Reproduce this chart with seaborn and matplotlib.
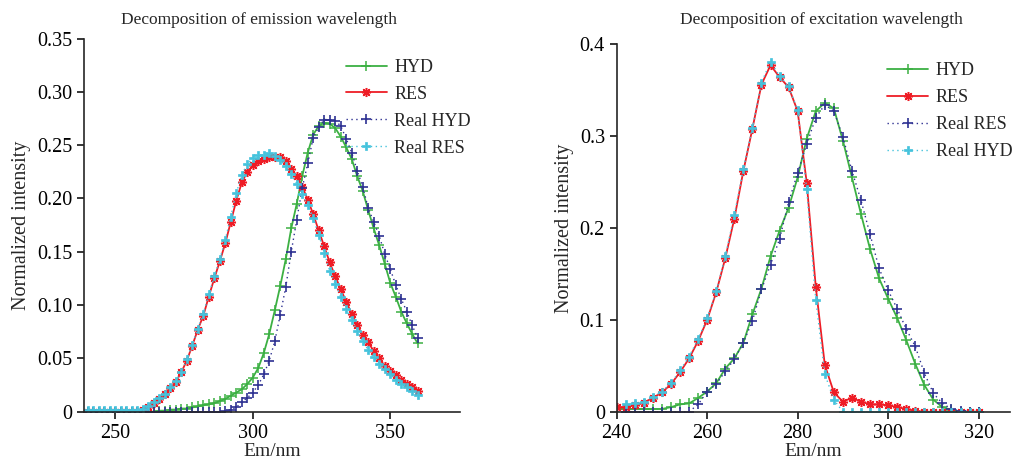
import numpy as np
import matplotlib
matplotlib.use("Agg")
import matplotlib.pyplot as plt
import seaborn as sns

# emission (left panel), 2 nm steps 240..360
em_nm = list(range(240, 362, 2))
em_hyd = [0, 0, 0, 0, 0, 0, 0, 0, 0, 0, 0, 0, 0, 0.001, 0.001, 0.002, 0.002, 0.003, 0.003, 0.004,
          0.005, 0.006, 0.007, 0.008, 0.010, 0.012, 0.015, 0.018, 0.021, 0.026, 0.032, 0.041, 0.055,
          0.073, 0.095, 0.118, 0.143, 0.172, 0.195, 0.221, 0.243, 0.260, 0.268, 0.271, 0.270, 0.266,
          0.258, 0.248, 0.237, 0.221, 0.207, 0.189, 0.172, 0.156, 0.139, 0.121, 0.108, 0.094, 0.083,
          0.073, 0.064]
em_res = [0, 0, 0, 0, 0, 0, 0, 0, 0, 0, 0.002, 0.004, 0.008, 0.012, 0.017, 0.022, 0.028, 0.037,
          0.048, 0.062, 0.077, 0.090, 0.108, 0.125, 0.141, 0.158, 0.178, 0.198, 0.215, 0.225, 0.231,
          0.235, 0.237, 0.2385, 0.239, 0.2385, 0.235, 0.228, 0.221, 0.211, 0.199, 0.185, 0.170,
          0.155, 0.140, 0.127, 0.115, 0.103, 0.092, 0.081, 0.072, 0.065, 0.057, 0.050, 0.043, 0.038,
          0.034, 0.030, 0.026, 0.023, 0.019]
em_real_hyd = [0, 0, 0, 0, 0, 0, 0, 0, 0, 0, 0, 0, 0, 0, 0, 0, 0, 0, 0, 0, 0, 0, 0, 0, 0, 0.001,
               0.002, 0.004, 0.009, 0.013, 0.018, 0.025, 0.035, 0.048, 0.066, 0.091, 0.117, 0.150,
               0.180, 0.210, 0.233, 0.257, 0.267, 0.274, 0.274, 0.273, 0.268, 0.256, 0.243, 0.226,
               0.211, 0.191, 0.178, 0.165, 0.148, 0.134, 0.119, 0.106, 0.094, 0.081, 0.069]
em_real_res = [0.002, 0.002, 0.002, 0.002, 0.002, 0.002, 0.002, 0.002, 0.002, 0.002, 0.003, 0.005,
               0.009, 0.013, 0.017, 0.023, 0.029, 0.037, 0.049, 0.063, 0.078, 0.092, 0.110, 0.127,
               0.143, 0.161, 0.183, 0.205, 0.222, 0.232, 0.238, 0.2405, 0.241, 0.243, 0.240, 0.236,
               0.230, 0.223, 0.214, 0.204, 0.194, 0.182, 0.166, 0.149, 0.132, 0.120, 0.108, 0.096,
               0.086, 0.076, 0.066, 0.058, 0.051, 0.045, 0.040, 0.035, 0.030, 0.026, 0.023, 0.019,
               0.016]

# excitation (right panel), 2 nm steps
ex_nm = list(range(240, 322, 2))
ex_hyd = [0.003, 0.003, 0.003, 0.003, 0.003, 0.003, 0.005, 0.008, 0.009, 0.015, 0.022, 0.031, 0.047,
          0.058, 0.075, 0.106, 0.134, 0.169, 0.197, 0.222, 0.255, 0.297, 0.327, 0.336, 0.330, 0.295,
          0.255, 0.215, 0.177, 0.145, 0.123, 0.102, 0.078, 0.052, 0.029, 0.013, 0.005, 0.002, 0, 0, 0]
ex_res = [0.005, 0.005, 0.007, 0.010, 0.015, 0.021, 0.030, 0.043, 0.058, 0.077, 0.100, 0.130, 0.167,
          0.210, 0.262, 0.308, 0.356, 0.377, 0.364, 0.353, 0.327, 0.249, 0.136, 0.051, 0.021, 0.011,
          0.015, 0.011, 0.008, 0.008, 0.007, 0.005, 0.003, 0.001, 0, 0, 0, 0, 0, 0, 0]
ex_real_nm = list(range(242, 322, 2))
ex_real_res = [0, 0, 0, 0, 0, 0, 0, 0, 0.008, 0.022, 0.030, 0.044, 0.057, 0.075, 0.099, 0.133,
               0.160, 0.188, 0.228, 0.260, 0.291, 0.320, 0.334, 0.327, 0.299, 0.262, 0.230, 0.193,
               0.156, 0.132, 0.112, 0.090, 0.071, 0.042, 0.020, 0.009, 0.003, 0.001, 0, 0]
ex_real_hyd = [0.008, 0.009, 0.011, 0.016, 0.022, 0.031, 0.045, 0.060, 0.079, 0.102, 0.131, 0.169,
               0.214, 0.264, 0.309, 0.358, 0.381, 0.365, 0.354, 0.328, 0.242, 0.122, 0.041, 0.013,
               0, 0, 0, 0, 0, 0, 0, 0, 0, 0, 0, 0, 0, 0, 0, 0]

GREEN = "#3cb043"
RED = "#ee1c25"
BLUE = "#2e3192"
CYAN = "#45c3dc"

sns.set_style("ticks")
plt.rcParams["font.family"] = ["Liberation Serif", "DejaVu Serif"]

fig = plt.figure(figsize=(10.17, 4.59), dpi=100)
ax1 = fig.add_axes([0.0826, 0.103, 0.370, 0.813])
ax2 = fig.add_axes([0.6064, 0.103, 0.387, 0.801])


def draw(ax, x, xr, fit_a, fit_b, real_a, real_b, labels):
    # seaborn paints marker edges white by default, so give every series its own edge colour
    sns.lineplot(x=x, y=fit_a, ax=ax, color=GREEN, marker="+", markersize=7,
                 markeredgecolor=GREEN, markeredgewidth=1.1, linewidth=1.3, label=labels[0])
    sns.lineplot(x=x, y=fit_b, ax=ax, color=RED, marker=(8, 2, 0), markersize=6.5,
                 markeredgecolor=RED, markeredgewidth=1.1, linewidth=1.3, label=labels[1])
    sns.lineplot(x=xr, y=real_a, ax=ax, color=BLUE, marker="+", markersize=7,
                 markeredgecolor=BLUE, markeredgewidth=1.2, linewidth=1.0,
                 linestyle=(0, (1, 2.5)), label=labels[2])
    sns.lineplot(x=xr, y=real_b, ax=ax, color=CYAN, marker="P", markersize=5.5,
                 markeredgecolor=CYAN, markerfacecolor=CYAN, markeredgewidth=0.5,
                 linewidth=1.0, linestyle=(0, (1, 2.5)), label=labels[3])


draw(ax1, em_nm, em_nm, em_hyd, em_res, em_real_hyd, em_real_res,
     ["HYD", "RES", "Real HYD", "Real RES"])
draw(ax2, ex_nm, ex_real_nm, ex_hyd, ex_res, ex_real_res, ex_real_hyd,
     ["HYD", "RES", "Real RES", "Real HYD"])

ax1.set_xlim(238.6, 375.5)
ax1.set_ylim(0, 0.35)
ax1.set_xticks([250, 300, 350])
ax1.set_yticks(np.arange(0, 0.351, 0.05))
ax1.set_yticklabels(["0"] + ["%.2f" % v for v in np.arange(0.05, 0.351, 0.05)])

ax2.set_xlim(240, 327)
ax2.set_ylim(0, 0.4)
ax2.set_xticks([240, 260, 280, 300, 320])
ax2.set_yticks([0, 0.1, 0.2, 0.3, 0.4])
ax2.set_yticklabels(["0", "0.1", "0.2", "0.3", "0.4"])

for ax, title, tx, ty, lx, ly, yl in [
        (ax1, "Decomposition of emission wavelength", 0.465, 1.05, 0.676, 0.965, -0.14),
        (ax2, "Decomposition of excitation wavelength", 0.52, 1.065, 0.668, 0.97, -0.108)]:
    sns.despine(ax=ax)
    ax.spines["left"].set_linewidth(1.2)
    ax.spines["bottom"].set_linewidth(1.2)
    ax.tick_params(direction="out", length=5, width=1.1, labelsize=14.5, colors="black")
    ax.set_xlabel("Em/nm", fontsize=14, labelpad=0)
    ax.set_ylabel("Normalized intensity", fontsize=14.5)
    ax.yaxis.set_label_coords(yl, 0.5)
    ax.text(tx, ty, title, transform=ax.transAxes, ha="center", va="center", fontsize=12.5)
    ax.legend(loc="upper left", bbox_to_anchor=(lx, ly), frameon=False, fontsize=13,
              handlelength=2.3, handletextpad=0.4, labelspacing=0.55, borderaxespad=0)

fig.savefig("out.png", dpi=100)
